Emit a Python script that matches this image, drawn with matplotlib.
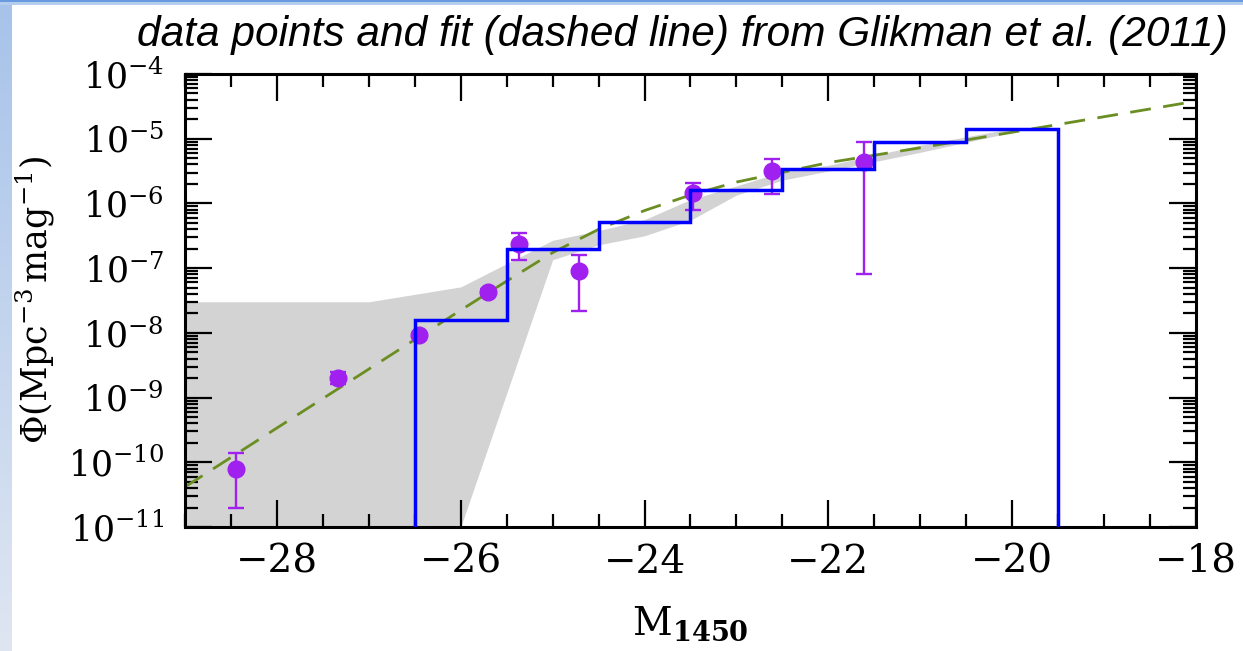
import numpy as np
import matplotlib
matplotlib.use("Agg")
import matplotlib.pyplot as plt
from matplotlib.ticker import LogLocator, NullFormatter

plt.rcParams['font.family'] = 'DejaVu Serif'
plt.rcParams['mathtext.fontset'] = 'dejavuserif'

# binned QLF points (M_1450, Phi, lower / upper error bounds)
pt_mag = [-28.45, -27.33, -26.45, -25.70, -25.37, -24.71, -23.47, -22.61, -21.61]
pt_phi = [8.0e-11, 2.0e-9, 9.3e-9, 4.3e-8, 2.4e-7, 9.0e-8, 1.45e-6, 3.2e-6, 4.4e-6]
pt_lo = [2.0e-11, 1.6e-9, 8.5e-9, 3.8e-8, 1.35e-7, 2.2e-8, 8.0e-7, 1.4e-6, 8.1e-8]
pt_hi = [1.4e-10, 2.5e-9, 1.0e-8, 4.8e-8, 3.5e-7, 1.6e-7, 2.1e-6, 4.9e-6, 8.9e-6]

# model histogram, 1 mag bins
hist_edges = [-26.5, -25.5, -24.5, -23.5, -22.5, -21.5, -20.5, -19.5]
hist_phi = [1.6e-8, 2.0e-7, 5.2e-7, 1.6e-6, 3.4e-6, 8.9e-6, 1.4e-5]

# double power-law fit, log10(Phi)
fit_mag = [-29, -28, -27, -26, -25.5, -25, -24.5, -24, -23.5, -23, -22, -21, -20, -19, -18]
fit_logphi = [-10.38, -9.47, -8.56, -7.65, -7.20, -6.76, -6.40, -6.11, -5.87, -5.67,
              -5.37, -5.14, -4.90, -4.66, -4.42]

# shaded model range, log10(Phi)
band_mag = [-29, -27, -26, -25, -24.5, -24, -23.5, -23, -22.5, -22, -21, -20]
band_lo = [-12, -12, -11, -6.87, -6.64, -6.50, -6.26, -5.87, -5.64, -5.50, -5.21, -4.90]
band_hi = [-7.52, -7.52, -7.29, -6.57, -6.42, -6.25, -5.94, -5.73, -5.51, -5.41, -5.10, -4.84]

yticks = [1e-11, 1e-10, 1e-9, 1e-8, 1e-7, 1e-6, 1e-5, 1e-4]
ytick_labels = [r'$10^{-11}$', r'$10^{-10}$', r'$10^{-9}$', r'$10^{-8}$',
                r'$10^{-7}$', r'$10^{-6}$', r'$10^{-5}$', r'$10^{-4}$']

W, H = 1243, 651
fig = plt.figure(figsize=(W / 100, H / 100), dpi=100)
fig.patch.set_facecolor('white')

# slide frame: blue strip on the left and along the top
strip = fig.add_axes([0, 0, 12 / W, 1])
grad = np.linspace(0, 1, 256).reshape(-1, 1)
cmap = matplotlib.colors.LinearSegmentedColormap.from_list('frame', ['#a7c3ea', '#dfe6f2'])
strip.imshow(grad, aspect='auto', cmap=cmap, extent=[0, 1, 0, 1], origin='upper')
strip.axis('off')
top = fig.add_axes([0, 1 - 5 / H, 1, 5 / H])
top.set_facecolor('#b3cdee')
top.axhline(0.85, color='#5b8fdc', lw=1.2)
top.set_xticks([])
top.set_yticks([])
for s in top.spines.values():
    s.set_visible(False)

ax = fig.add_axes([185 / W, 1 - 527 / H, (1196 - 185) / W, (527 - 74) / H])

ax.fill_between(band_mag, 10 ** np.array(band_lo), 10 ** np.array(band_hi),
                color='#d3d3d3', lw=0, zorder=1)
ax.plot(fit_mag, 10 ** np.array(fit_logphi), color='#6b8e23', lw=2,
        dashes=(7.5, 4.5), zorder=2)

phi = np.array(pt_phi)
yerr = [phi - np.array(pt_lo), np.array(pt_hi) - phi]
ax.errorbar(pt_mag, phi, yerr=yerr, fmt='o', color='#a020f0', ms=12,
            elinewidth=1.7, capsize=6, capthick=1.7, zorder=3)

ax.stairs(hist_phi, hist_edges, baseline=1e-13, color='#0000ff', lw=2.5, zorder=4)

ax.set_xlim(-29, -18)
ax.set_yscale('log')
ax.set_ylim(1e-11, 1e-4)
ax.set_xticks(np.arange(-28, -17, 2))
ax.set_xticks(np.arange(-29, -17.9, 0.5), minor=True)
ax.set_yticks(yticks)
ax.set_yticklabels(ytick_labels)
ax.yaxis.set_minor_locator(LogLocator(base=10, subs=np.arange(2, 10), numticks=100))
ax.yaxis.set_minor_formatter(NullFormatter())

ax.tick_params(which='both', direction='in', top=True, right=True, width=1.6)
ax.tick_params(which='major', length=19.5)
ax.tick_params(axis='x', which='major', labelsize=28, pad=12)
ax.tick_params(axis='y', which='major', labelsize=25, pad=15)
ax.tick_params(which='minor', length=9.5)
for s in ax.spines.values():
    s.set_linewidth(2.2)

ax.set_xlabel(r'$\mathrm{M}_{\mathbf{1450}}$', fontsize=28, labelpad=17)
ax.set_ylabel(r'$\Phi(\mathrm{Mpc}^{-3}\,\mathrm{mag}^{-1})$', fontsize=25, labelpad=8)

fig.text(0.549, 1 - 46 / H, 'data points and fit (dashed line) from Glikman et al. (2011)',
         family='Liberation Sans', style='italic', fontsize=30.5, ha='center', va='baseline')

fig.savefig('out.png', dpi=100)
